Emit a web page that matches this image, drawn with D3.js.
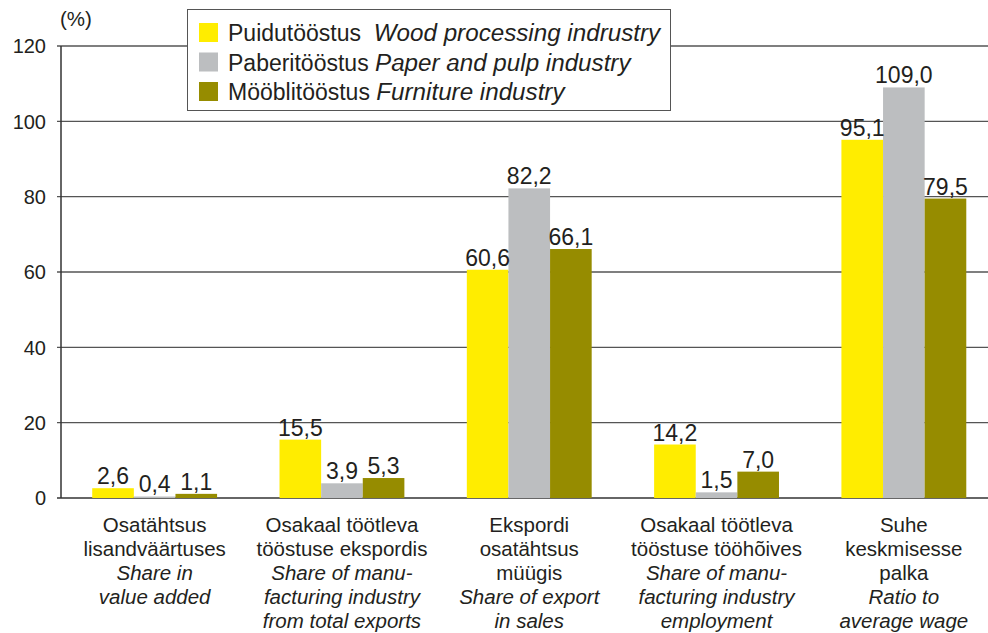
<!DOCTYPE html>
<html><head><meta charset="utf-8">
<script src="https://cdn.jsdelivr.net/npm/d3@7"></script>
<style>body{margin:0;background:#fff}svg{display:block;font-family:"Liberation Sans",Arial,sans-serif}</style>
</head><body><svg id="c" width="988" height="633"></svg>
<script>
const categories = ["c1","c2","c3","c4","c5"];
const catLabelsEt = [["Osatähtsus","lisandväärtuses"],["Osakaal töötleva","tööstuse ekspordis"],["Ekspordi","osatähtsus","müügis"],["Osakaal töötleva","tööstuse tööhõives"],["Suhe","keskmisesse","palka"]];
const catLabelsEn = [["Share in","value added"],["Share of manu-","facturing industry","from total exports"],["Share of export","in sales"],["Share of manu-","facturing industry","employment"],["Ratio to","average wage"]];
const seriesNames = ["wood","paper","furniture"];
const seriesEt = ["Puidutööstus","Paberitööstus","Mööblitööstus"];
const seriesEn = ["Wood processing indrustry","Paper and pulp industry","Furniture industry"];
const wood = [2.6, 15.5, 60.6, 14.2, 95.1];
const paper = [0.4, 3.9, 82.2, 1.5, 109.0];
const furniture = [1.1, 5.3, 66.1, 7.0, 79.5];
const yTicks = [0,20,40,60,80,100,120];
const colors = ["#ffed00","#bcbec0","#968c00"];

const values = [wood, paper, furniture];
const svg = d3.select("#c");
const textColor = "#231f20";
const x0 = d3.scaleBand().domain(categories).range([61, 997.5]).padding(0);
const x1 = d3.scaleBand().domain(seriesNames).range([x0.bandwidth()/6, x0.bandwidth()*5/6]).padding(0);
const y = d3.scaleLinear().domain([0,120]).range([498, 46]);

// gridlines
svg.append("g").selectAll("line").data(yTicks).join("line")
  .attr("x1", 57).attr("x2", 988)
  .attr("y1", d=>y(d)).attr("y2", d=>y(d))
  .attr("stroke", d=> d===0 ? "#333" : "#555").attr("stroke-width", 1.3);
// y axis
svg.append("line").attr("x1",61).attr("x2",61).attr("y1",y(120)).attr("y2",y(0)).attr("stroke","#333").attr("stroke-width",1.5);
svg.append("g").selectAll("text").data(yTicks).join("text")
  .attr("x", 46).attr("y", d=>y(d)).attr("dy","0.36em")
  .attr("text-anchor","end").attr("font-size",20).attr("fill",textColor).text(d=>d);
svg.append("text").attr("x",60).attr("y",26).attr("font-size",20.5).attr("fill",textColor).text("(%)");

// bars
const g = svg.append("g").selectAll("g").data(categories).join("g")
  .attr("transform", c=>`translate(${x0(c)},0)`);
g.selectAll("rect").data((c,i)=>seriesNames.map((s,j)=>({s, j, v: values[j][i]}))).join("rect")
  .attr("x", d=>x1(d.s)).attr("width", x1.bandwidth())
  .attr("y", d=>y(d.v)).attr("height", d=>y(0)-y(d.v))
  .attr("fill", d=>colors[d.j]);
const fmt = v => v.toFixed(1).replace(".", ",");
g.selectAll("text").data((c,i)=>seriesNames.map((s,j)=>({s, j, v: values[j][i]}))).join("text")
  .attr("x", d=>x1(d.s)+x1.bandwidth()/2).attr("y", d=>y(d.v)-4)
  .attr("text-anchor","middle").attr("font-size",23).attr("fill",textColor).text(d=>fmt(d.v));

// category labels
categories.forEach((c,i)=>{
  const cx = x0(c)+x0.bandwidth()/2;
  const t = svg.append("text").attr("text-anchor","middle").attr("font-size",20.5).attr("fill",textColor);
  const lines = catLabelsEt[i].map(l=>({l,it:false})).concat(catLabelsEn[i].map(l=>({l,it:true})));
  lines.forEach((ln,k)=>{
    t.append("tspan").attr("x",cx).attr("y",532+k*24).attr("font-style",ln.it?"italic":"normal").text(ln.l);
  });
});

// legend
const lg = svg.append("g");
lg.append("rect").attr("x",187.5).attr("y",9.5).attr("width",483).attr("height",101).attr("fill","#fff").attr("stroke","#555").attr("stroke-width",1);
seriesNames.forEach((s,j)=>{
  const cy = 33 + j*29.5;
  lg.append("rect").attr("x",199).attr("y",cy-10).attr("width",19).attr("height",19).attr("fill",colors[j]);
  const t = lg.append("text").attr("x",228).attr("y",cy).attr("dy","0.36em").attr("font-size",23).attr("fill",textColor);
  t.append("tspan").text(seriesEt[j] + (j===0?"\u00a0\u00a0":" "));
  t.append("tspan").attr("font-style","italic").attr("font-size",24.2).text(seriesEn[j]);
});
</script></body></html>
